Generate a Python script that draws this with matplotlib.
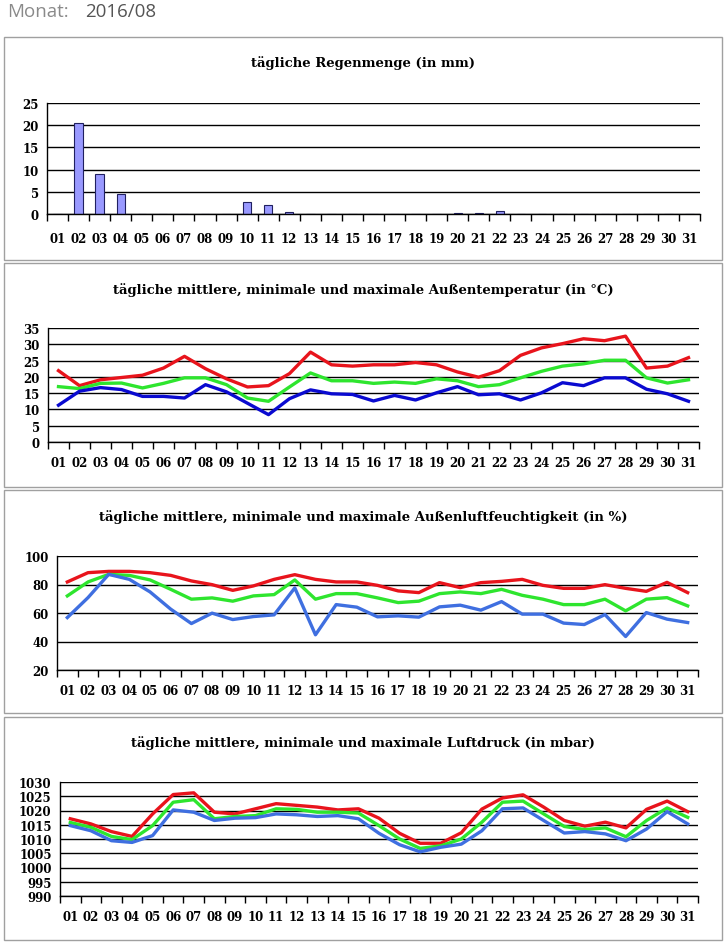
import matplotlib as mpl
mpl.use('Agg')
import matplotlib.pyplot as plt
from matplotlib.patches import Rectangle

days = ['%02d' % d for d in range(1, 32)]

rain = [0, 20.6, 9.0, 4.5, 0, 0, 0, 0, 0, 2.6, 2.0, 0.4, 0, 0, 0, 0,
        0, 0, 0, 0.2, 0.2, 0.6, 0, 0, 0, 0, 0, 0, 0, 0, 0]

temp_max = [21.9, 17.3, 19.1, 19.8, 20.5, 22.7, 26.3, 22.5, 19.4, 16.9, 17.3,
            21.0, 27.6, 23.7, 23.3, 23.7, 23.7, 24.4, 23.7, 21.5, 19.9, 21.9,
            26.6, 28.9, 30.2, 31.7, 31.1, 32.5, 22.7, 23.3, 25.9]
temp_mean = [17.0, 16.4, 18.0, 18.1, 16.6, 18.0, 19.7, 19.7, 17.6, 13.5, 12.5,
             16.9, 21.2, 18.8, 18.8, 18.0, 18.4, 18.0, 19.4, 18.8, 17.0, 17.6,
             19.7, 21.7, 23.3, 24.0, 25.1, 25.1, 19.7, 18.1, 19.1]
temp_min = [11.3, 15.6, 16.7, 16.1, 14.0, 14.0, 13.5, 17.6, 15.4, 11.9, 8.4,
            13.3, 16.0, 14.8, 14.6, 12.6, 14.3, 12.9, 15.1, 17.0, 14.5, 14.8,
            12.9, 15.1, 18.2, 17.3, 19.7, 19.7, 16.2, 14.8, 12.5]

hum_max = [81.8, 88.3, 89.2, 89.2, 88.3, 86.4, 82.5, 79.9, 75.9, 79.0, 83.6,
           86.9, 83.6, 81.8, 81.8, 79.4, 75.5, 74.3, 81.3, 77.8, 81.3, 82.2,
           83.6, 79.4, 77.3, 77.3, 79.9, 77.3, 75.2, 81.5, 74.3]
hum_mean = [72.0, 81.8, 87.1, 86.4, 83.2, 76.6, 69.7, 70.6, 68.3, 72.0, 72.9,
            83.2, 69.7, 73.6, 73.6, 70.6, 67.3, 68.3, 73.6, 74.8, 73.6, 76.6,
            72.4, 69.7, 65.9, 65.9, 69.7, 61.5, 69.7, 70.8, 65.0]
hum_min = [56.8, 70.8, 87.1, 83.6, 74.8, 62.7, 52.6, 59.9, 55.4, 57.5, 58.7,
           77.6, 44.7, 65.9, 64.1, 57.3, 58.0, 57.1, 64.3, 65.5, 62.0, 68.0,
           59.2, 59.2, 52.9, 51.9, 58.9, 43.5, 60.3, 55.7, 53.3]

press_max = [1017.1, 1015.3, 1012.6, 1010.9, 1018.8, 1025.6, 1026.2, 1019.4,
             1018.8, 1020.6, 1022.4, 1021.8, 1021.2, 1020.2, 1020.6, 1017.3,
             1012.0, 1008.5, 1008.5, 1012.2, 1020.5, 1024.4, 1025.5, 1021.2,
             1016.5, 1014.5, 1015.9, 1013.9, 1020.4, 1023.3, 1019.6]
press_mean = [1015.8, 1014.1, 1010.9, 1009.8, 1014.7, 1022.9, 1023.8, 1017.1,
              1017.9, 1018.2, 1020.6, 1020.4, 1019.4, 1019.4, 1019.1, 1014.7,
              1010.0, 1006.7, 1007.6, 1010.0, 1015.9, 1022.9, 1023.3, 1018.8,
              1014.4, 1013.3, 1013.9, 1010.8, 1016.5, 1020.9, 1017.6]
press_min = [1014.7, 1012.9, 1009.4, 1008.8, 1011.2, 1020.2, 1019.4, 1016.5,
             1017.3, 1017.5, 1018.8, 1018.5, 1017.9, 1018.2, 1017.1, 1012.0,
             1008.0, 1005.5, 1007.1, 1008.2, 1012.9, 1020.6, 1020.9, 1016.5,
             1012.1, 1012.6, 1011.8, 1009.4, 1013.5, 1019.6, 1015.3]

W, H = 727, 945
RED = '#e8141c'
GREEN = '#2ee52e'
DARKBLUE = '#0a0ad0'
BLUE = '#3f6fe0'
SERIF = 'DejaVu Serif'

fig = plt.figure(figsize=(W / 100, H / 100), dpi=100)


def px_axes(left, top, right, bottom):
    return fig.add_axes([left / W, 1 - bottom / H, (right - left) / W, (bottom - top) / H])


def panel_box(top, bottom):
    fig.patches.append(Rectangle((4 / W, 1 - bottom / H), 718 / W, (bottom - top) / H,
                                 transform=fig.transFigure, fill=False,
                                 edgecolor='#a0a0a0', lw=1.0))


def style_axes(ax, ylim, step, pad):
    ax.set_xlim(-0.5, len(days) - 0.5)
    ax.set_ylim(*ylim)
    ax.set_yticks(range(ylim[0], ylim[1] + 1, step))
    ax.set_xticks(range(len(days)))
    ax.set_xticklabels(days)
    ax.set_xticks([i - 0.5 for i in range(len(days) + 1)], minor=True)
    ax.tick_params(axis='x', which='major', length=0, pad=pad)
    ax.tick_params(axis='x', which='minor', length=5, width=1, color='black', direction='out')
    ax.tick_params(axis='y', length=0, pad=6)
    for lab in ax.get_xticklabels() + ax.get_yticklabels():
        lab.set_fontfamily(SERIF)
        lab.set_fontweight('bold')
        lab.set_fontsize(8.5)
    ax.yaxis.grid(True, color='black', lw=1.0)
    ax.set_axisbelow(True)
    for s in ['top', 'right']:
        ax.spines[s].set_visible(False)
    for s in ['left', 'bottom']:
        ax.spines[s].set_color('black')
        ax.spines[s].set_linewidth(1.0)
    ax.set_facecolor('none')


def line_panel(ax, series, colors, ylim, step):
    x = range(len(days))
    for vals, c in zip(series, colors):
        ax.plot(x, vals, color=c, lw=2.4, solid_joinstyle='round')
    style_axes(ax, ylim, step, 10)


# header
fig.text(7 / W, 1 - 12 / H, 'Monat:', color='#8a8a8a', fontsize=13.5,
         family='Open Sans', va='center', ha='left')
fig.text(85 / W, 1 - 12 / H, '2016/08', color='#555555', fontsize=13.5,
         family='Open Sans', va='center', ha='left')

# panel frames
panel_box(38, 261)
panel_box(264, 488)
panel_box(491, 714)
panel_box(718, 941)

titles = [(63, 'tägliche Regenmenge (in mm)'),
          (290, 'tägliche mittlere, minimale und maximale Außentemperatur (in °C)'),
          (517, 'tägliche mittlere, minimale und maximale Außenluftfeuchtigkeit (in %)'),
          (743, 'tägliche mittlere, minimale und maximale Luftdruck (in mbar)')]
for y, t in titles:
    fig.text(363 / W, 1 - y / H, t, ha='center', va='center', family=SERIF,
             fontweight='bold', fontsize=9.5)

# rain
ax1 = px_axes(47, 104, 700, 215)
ax1.bar(range(len(days)), rain, width=0.4, color='#9999ff', edgecolor='#202060', lw=0.8)
style_axes(ax1, (0, 25), 5, 13)

# temperature
ax2 = px_axes(48, 329, 699, 443)
line_panel(ax2, [temp_max, temp_mean, temp_min], [RED, GREEN, DARKBLUE], (0, 35), 5)

# humidity
ax3 = px_axes(57, 557, 698, 671)
line_panel(ax3, [hum_max, hum_mean, hum_min], [RED, GREEN, BLUE], (20, 100), 20)

# pressure
ax4 = px_axes(60, 783, 698, 897)
line_panel(ax4, [press_max, press_mean, press_min], [RED, GREEN, BLUE], (990, 1030), 5)

fig.savefig('out.png', dpi=100)
